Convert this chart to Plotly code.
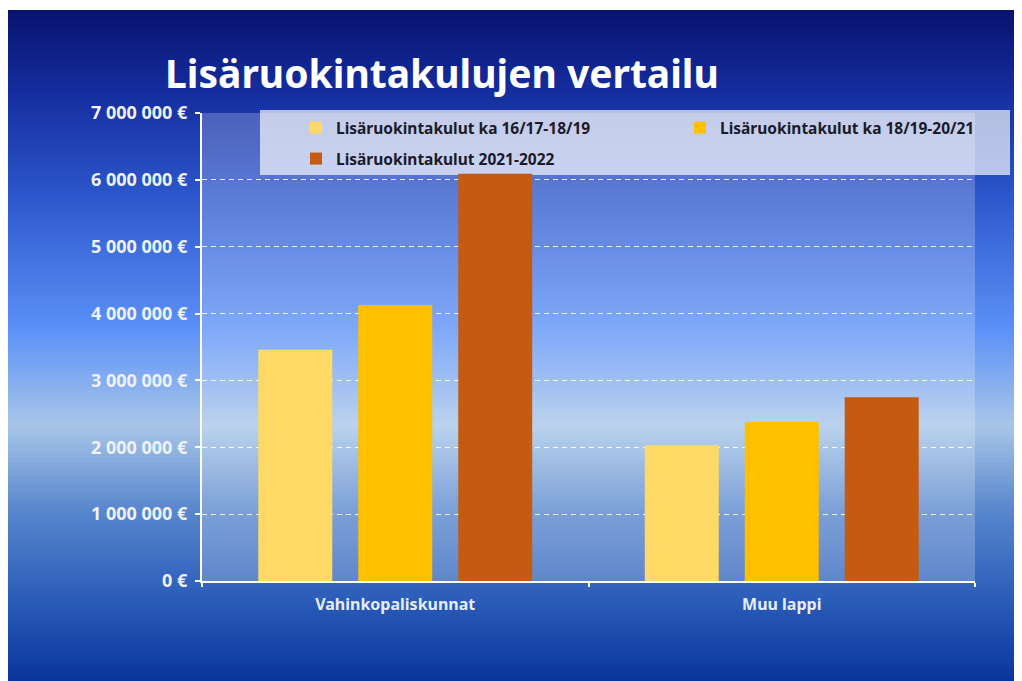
import plotly.graph_objects as go

categories = ["Vahinkopaliskunnat", "Muu lappi"]
series_names = ["Lisäruokintakulut ka 16/17-18/19",
                "Lisäruokintakulut ka 18/19-20/21",
                "Lisäruokintakulut 2021-2022"]
values_1 = [3460000, 2030000]
values_2 = [4130000, 2380000]
values_3 = [6090000, 2750000]
colors = ["#FFD966", "#FFC000", "#C55A11"]
tick_vals = [0, 1000000, 2000000, 3000000, 4000000, 5000000, 6000000, 7000000]
tick_text = ["0 €", "1 000 000 €", "2 000 000 €", "3 000 000 €", "4 000 000 €",
             "5 000 000 €", "6 000 000 €", "7 000 000 €"]

W, H = 1022, 681
OFF = 8  # page offset of the figure in the screenshot
L, R, T, B = 194, 55, 105, 108
PW, PH = W - L - R, H - T - B


def px_x(sx):
    return (sx - OFF - L) / PW


def px_y(sy):
    return (H - B - (sy - OFF)) / PH


FONT = "Noto Sans"
fig = go.Figure()
legend_ids = ["legend", "legend2", "legend3"]
for name, vals, col, lg in zip(series_names, [values_1, values_2, values_3], colors, legend_ids):
    fig.add_trace(go.Bar(name=name, x=categories, y=vals, legend=lg, showlegend=True,
                         marker=dict(color=col, line=dict(width=0))))

# background gradient strips (screen y -> colour)
stops = [(10, (8, 18, 112)), (100, (22, 48, 162)), (200, (45, 88, 205)),
         (330, (92, 145, 248)), (425, (168, 198, 232)), (510, (88, 135, 205)),
         (600, (42, 92, 185)), (690, (6, 48, 152))]


def col_at(y):
    for (y0, c0), (y1, c1) in zip(stops[:-1], stops[1:]):
        if y0 <= y <= y1:
            t = (y - y0) / (y1 - y0)
            return "rgb(%d,%d,%d)" % tuple(round(a + (b - a) * t) for a, b in zip(c0, c1))
    return "rgb(%d,%d,%d)" % stops[-1][1]


shapes = []
step = 4
y = 10
while y < H + OFF:
    shapes.append(dict(type="rect", xref="paper", yref="paper", layer="below",
                       x0=px_x(OFF - 2), x1=px_x(W + OFF + 2), y0=px_y(y + step + 1), y1=px_y(y),
                       fillcolor=col_at(y + step / 2), line=dict(width=0)))
    y += step
# plot area overlay
shapes.append(dict(type="rect", xref="paper", yref="paper", layer="below",
                   x0=0, x1=1, y0=0, y1=1, fillcolor="rgba(255,255,255,0.22)", line=dict(width=0)))
# legend box
shapes.append(dict(type="rect", xref="paper", yref="paper", layer="below",
                   x0=px_x(260), x1=px_x(1010), y0=px_y(175), y1=px_y(110),
                   fillcolor="rgba(255,255,255,0.68)", line=dict(width=0)))
fig.update_layout(shapes=shapes)

leg_font = dict(family=FONT, size=15.5, color="#1a1a2a", weight=700)


def leg(sx, sy):
    return dict(x=px_x(sx), y=px_y(sy), xanchor="left", yanchor="top", visible=True,
                bgcolor="rgba(0,0,0,0)", borderwidth=0, font=leg_font, itemwidth=30)


fig.update_layout(
    width=W, height=H,
    margin=dict(l=L, r=R, t=T, b=B),
    paper_bgcolor="white",
    plot_bgcolor="rgba(0,0,0,0)",
    showlegend=True,
    barmode="group", bargap=0.224, bargroupgap=0.26,
    title=dict(text="Lisäruokintakulujen vertailu", x=(165 - OFF) / W, xref="container", xanchor="left",
               y=1 - (74 - OFF) / H, yref="container", yanchor="middle",
               font=dict(family=FONT, size=39, color="white", weight=700)),
    legend=leg(296, 111),
    legend2=leg(680, 111),
    legend3=leg(296, 142),
    xaxis=dict(showline=True, linecolor="white", linewidth=2, ticks="outside", tickson="boundaries",
               ticklen=4, tickcolor="white", tickwidth=2, showgrid=False, ticklabelstandoff=8,
               tickfont=dict(family=FONT, size=16, color="#e6eefa", weight=700)),
    yaxis=dict(range=[0, 7000000], tickvals=tick_vals, ticktext=tick_text, showline=True,
               linecolor="white", linewidth=2, ticks="outside", ticklen=5, tickcolor="white", tickwidth=2,
               showgrid=True, gridcolor="rgba(255,255,255,0.9)", gridwidth=1, griddash="5px,4px",
               zeroline=False, ticklabelstandoff=4,
               tickfont=dict(family=FONT, size=18, color="#eef2fa", weight=700)),
)

fig.write_html("out.html")
